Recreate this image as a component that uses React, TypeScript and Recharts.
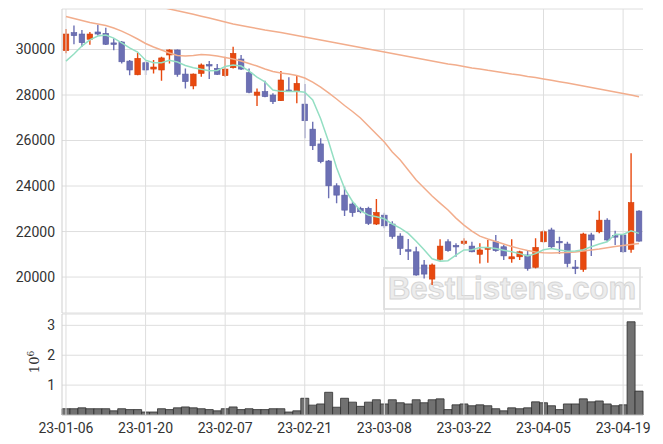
import React from "react";
import {
  ComposedChart, Bar, Line, XAxis, YAxis, CartesianGrid, ReferenceLine,
} from "recharts";

const dates = [
  "23-01-06", "23-01-09", "23-01-10", "23-01-11", "23-01-12", "23-01-13", "23-01-16", "23-01-17",
  "23-01-18", "23-01-19", "23-01-20", "23-01-25", "23-01-26", "23-01-27", "23-01-30", "23-01-31",
  "23-02-01", "23-02-02", "23-02-03", "23-02-06", "23-02-07", "23-02-08", "23-02-09", "23-02-10",
  "23-02-13", "23-02-14", "23-02-15", "23-02-16", "23-02-17", "23-02-20", "23-02-21", "23-02-22",
  "23-02-23", "23-02-24", "23-02-27", "23-02-28", "23-03-02", "23-03-03", "23-03-06", "23-03-07",
  "23-03-08", "23-03-09", "23-03-10", "23-03-13", "23-03-14", "23-03-15", "23-03-16", "23-03-17",
  "23-03-20", "23-03-21", "23-03-22", "23-03-23", "23-03-24", "23-03-27", "23-03-28", "23-03-29",
  "23-03-30", "23-03-31", "23-04-03", "23-04-04", "23-04-05", "23-04-06", "23-04-07", "23-04-10",
  "23-04-11", "23-04-12", "23-04-13", "23-04-14", "23-04-17", "23-04-18", "23-04-19", "23-04-20",
  "23-04-21",
];

const xTicks = ["23-01-06", "23-01-20", "23-02-07", "23-02-21", "23-03-08", "23-03-22", "23-04-05", "23-04-19"];

const openP = [
  29950, 30740, 30680, 30450, 30770, 30710, 30290, 30330, 29490, 28890,
  29420, 29140, 29100, 29760, 29980, 28920, 28400, 28950, 29340, 29170,
  28850, 29200, 29580, 28980, 27990, 28150, 28000, 27750, 28220, 28150,
  27600, 26500, 25850, 25100, 24010, 23600, 23210, 23020, 23020, 22330,
  22720, 22330, 21800, 21200, 21110, 20530, 19910, 20780, 21550, 21390,
  21480, 21360, 21000, 21220, 21550, 21330, 20800, 20890, 20970, 20430,
  21550, 22070, 21570, 21450, 20440, 20340, 21850, 21990, 22500, 21820,
  21850, 21220, 22900,
];
const highP = [
  30900, 31050, 30860, 30770, 31090, 30960, 30500, 30370, 29540, 29860,
  29510, 29540, 29680, 30010, 30000, 29170, 28950, 29390, 29490, 29360,
  29680, 30120, 29760, 29170, 28290, 28630, 28080, 29050, 28780, 28880,
  28480, 26830, 26100, 25140, 24120, 23970, 23310, 23090, 23090, 23430,
  22830, 22450, 21920, 21670, 21330, 20750, 20600, 21660, 21660, 21480,
  21700, 21550, 21480, 21630, 21850, 21410, 21660, 21160, 21190, 21700,
  22070, 22170, 21770, 21550, 20750, 21950, 21950, 22910, 22580, 22040,
  21890, 25440, 22940,
];
const lowP = [
  29830, 30230, 30120, 30210, 30620, 30200, 29970, 29390, 28870, 28870,
  28880, 28950, 28630, 29390, 28800, 28290, 28250, 28800, 28700, 28880,
  28800, 29170, 29100, 28080, 27520, 27900, 27600, 27740, 28140, 27640,
  26100, 25580, 25000, 23460, 23240, 22680, 22650, 22800, 22290, 22290,
  22150, 21680, 20970, 20750, 20060, 19940, 19650, 20720, 21110, 20890,
  21410, 21090, 20600, 20630, 21110, 20750, 20630, 20750, 20280, 20380,
  21510, 21260, 21010, 20430, 20130, 20230, 20920, 21920, 21550, 21410,
  21070, 21070, 21550,
];
const closeP = [
  30680, 30610, 30300, 30680, 30680, 30230, 30240, 29460, 29100, 29610,
  29100, 29230, 29630, 29980, 28910, 28590, 28920, 29320, 29320, 28910,
  29140, 29830, 29140, 28120, 28130, 27930, 27710, 28660, 28150, 28510,
  26870, 25770, 25070, 24010, 23600, 22940, 22830, 22870, 22360, 22840,
  22250, 21790, 21260, 21190, 20090, 20130, 20530, 21360, 21160, 21380,
  21580, 21110, 21190, 21300, 21160, 20930, 20890, 21110, 20380, 21300,
  21990, 21330, 21550, 20600, 20410, 21890, 21630, 22500, 21630, 21800,
  21110, 23270, 21580,
];

const ma5 = [
  29490, 29800, 30150, 30420, 30590, 30640, 30500, 30290, 30070, 29890,
  29530, 29420, 29420, 29530, 29450, 29300, 29200, 29130, 29070, 29080,
  29250, 29320, 29275, 29050, 28790, 28575, 28220, 28160, 28150, 28170,
  28120, 27780, 26960, 25950, 24800, 23900, 23320, 22920, 22720, 22650,
  22560, 22330, 22150, 21920, 21570, 21200, 20800, 20700, 20720, 20960,
  21190, 21200, 21300, 21300, 21250, 21180, 21110, 21030, 20930, 21030,
  21200, 21250, 21190, 21130, 21140, 21200, 21330, 21450, 21550, 21880,
  21870, 22030, 21920,
];
const ma20 = [
  31450, 31360, 31275, 31190, 31120, 31055, 30945, 30810, 30640, 30460,
  30265, 30110, 29980, 29845, 29735, 29715, 29735, 29780, 29760, 29715,
  29650, 29580, 29495, 29385, 29275, 29145, 29035, 28965, 28925, 28855,
  28745, 28570, 28350, 28090, 27825, 27540, 27275, 26990, 26635, 26285,
  25935, 25495, 25140, 24705, 24265, 23910, 23560, 23250, 22945, 22590,
  22285, 22020, 21800, 21670, 21560, 21450, 21340, 21250, 21165, 21100,
  21065, 21055, 21065, 21075, 21100, 21140, 21185, 21230, 21285, 21340,
  21385, 21430, 21470,
];
const ma60 = [
  32800, 32720, 32640, 32560, 32480, 32400, 32320, 32240, 32160, 32080,
  32000, 31930, 31860, 31780, 31700, 31630, 31550, 31465, 31385, 31295,
  31210, 31120, 31055, 30990, 30925, 30855, 30800, 30745, 30680, 30615,
  30550, 30485, 30420, 30350, 30285, 30220, 30155, 30090, 30020, 29955,
  29890, 29825, 29760, 29690, 29625, 29560, 29495, 29430, 29365, 29320,
  29255, 29185, 29145, 29085, 29035, 28980, 28925, 28880, 28815, 28770,
  28705, 28645, 28585, 28525, 28460, 28395, 28330, 28265, 28200, 28130,
  28065, 28000, 27925,
];

// volume in millions
const volume = [
  0.21, 0.21, 0.24, 0.21, 0.21, 0.21, 0.14, 0.21, 0.18, 0.18,
  0.10, 0.10, 0.21, 0.18, 0.24, 0.27, 0.24, 0.21, 0.18, 0.14,
  0.21, 0.27, 0.18, 0.21, 0.18, 0.18, 0.21, 0.21, 0.10, 0.14,
  0.56, 0.33, 0.37, 0.76, 0.26, 0.56, 0.43, 0.29, 0.43, 0.51,
  0.37, 0.51, 0.41, 0.37, 0.51, 0.41, 0.51, 0.54, 0.18, 0.34,
  0.37, 0.31, 0.34, 0.31, 0.21, 0.14, 0.24, 0.21, 0.24, 0.44,
  0.41, 0.31, 0.18, 0.37, 0.37, 0.54, 0.44, 0.47, 0.37, 0.31,
  0.34, 3.12, 0.80,
];

const priceTicks = [20000, 22000, 24000, 26000, 28000, 30000];
const volTicks = [1, 2, 3];

const data = dates.map((date, i) => ({
  date,
  open: openP[i],
  high: highP[i],
  low: lowP[i],
  close: closeP[i],
  ma5: ma5[i],
  ma20: ma20[i],
  ma60: ma60[i],
  vol: volume[i],
}));

const UP = "#e8490f";
const DOWN = "#6c70b4";
const GRID = "#dedede";
const FRAME = "#cfcfcf";
const tickStyle = { fill: "#333", fontSize: 14, fontFamily: "Roboto" };

function Candle(props: any) {
  const { x, y, width, height, payload } = props;
  const { open, close, high, low } = payload;
  const up = close >= open;
  const color = up ? UP : DOWN;
  const edge = up ? "#d23d08" : "#5a5ea3";
  const k = height / (high - low);
  const py = (v: number) => y + (high - v) * k;
  const cx = x + width / 2;
  const bw = width * 0.7;
  const top = py(Math.max(open, close));
  const bot = py(Math.min(open, close));
  return (
    <g>
      <line x1={cx} x2={cx} y1={y} y2={y + height} stroke={color} strokeWidth={1.4} />
      <rect x={cx - bw / 2} y={top} width={bw} height={Math.max(bot - top, 1.5)}
        fill={color} stroke={edge} strokeWidth={0.6} />
    </g>
  );
}

export default function App() {
  return (
    <div style={{ position: "absolute", left: 0, top: 0, width: 663, height: 444, background: "#fff" }}>
      <div style={{
        position: "absolute", left: 383, top: 267, width: 254, height: 39,
        border: "2px solid #e2e2e2", display: "flex", alignItems: "center", justifyContent: "center",
        fontFamily: "'Liberation Sans', Arial, sans-serif", fontWeight: 700, fontSize: 31,
        color: "#ececec", WebkitTextStroke: "1px #d6d6d6",
      }}>
        BestListens.com
      </div>

      <div style={{ position: "absolute", left: 0, top: 0 }}>
        <ComposedChart width={663} height={314} data={data} barCategoryGap={0}
          margin={{ top: 9, right: 20, left: 0, bottom: 1 }}>
          <CartesianGrid vertical={false} stroke={GRID} />
          <XAxis dataKey="date" height={0} tick={false} tickLine={false} axisLine={{ stroke: FRAME }} />
          <XAxis xAxisId="top" orientation="top" dataKey="date" height={0} tick={false} tickLine={false}
            axisLine={{ stroke: FRAME }} />
          <YAxis domain={[18420, 31780]} allowDataOverflow ticks={priceTicks} width={62}
            tick={tickStyle} tickSize={0} tickMargin={7} axisLine={{ stroke: FRAME }} />
          <YAxis yAxisId="right" orientation="right" width={0} tick={false} tickLine={false}
            axisLine={{ stroke: FRAME }} />
          {xTicks.map((d) => (
            <ReferenceLine key={d} x={d} stroke={GRID} />
          ))}
          <Bar dataKey={(d: any) => [d.low, d.high]} shape={<Candle />} isAnimationActive={false} />
          <Line dataKey="ma60" stroke="#f2ad8c" strokeWidth={1.5} dot={false} type="linear" isAnimationActive={false} />
          <Line dataKey="ma20" stroke="#f2ad8c" strokeWidth={1.5} dot={false} type="linear" isAnimationActive={false} />
          <Line dataKey="ma5" stroke="#94dfc3" strokeWidth={1.5} dot={false} type="linear" isAnimationActive={false} />
        </ComposedChart>
      </div>

      <div style={{ position: "absolute", left: 0, top: 313 }}>
        <ComposedChart width={663} height={131} data={data} barCategoryGap={0}
          margin={{ top: 1, right: 20, left: 0, bottom: 0 }}>
          <CartesianGrid vertical={false} stroke={GRID} />
          <XAxis dataKey="date" height={29} interval={9} tick={tickStyle} tickLine={false}
            axisLine={{ stroke: FRAME }} />
          <YAxis domain={[0, 3.38]} allowDataOverflow ticks={volTicks} width={62}
            tick={tickStyle} tickSize={0} tickMargin={7} axisLine={{ stroke: FRAME }} />
          <YAxis yAxisId="right" orientation="right" width={0} tick={false} tickLine={false}
            axisLine={{ stroke: FRAME }} />
          {xTicks.map((d) => (
            <ReferenceLine key={d} x={d} stroke={GRID} />
          ))}
          <Bar dataKey="vol" fill="#717171" stroke="#2e2e2e" strokeWidth={0.8} isAnimationActive={false} />
        </ComposedChart>
      </div>

      <div style={{
        position: "absolute", left: 34, top: 362, transform: "translate(-50%, -50%) rotate(-90deg)",
        fontFamily: "'DejaVu Serif', serif", fontSize: 13, color: "#333", whiteSpace: "nowrap",
      }}>
        10<sup style={{ fontSize: 9 }}>6</sup>
      </div>
    </div>
  );
}
